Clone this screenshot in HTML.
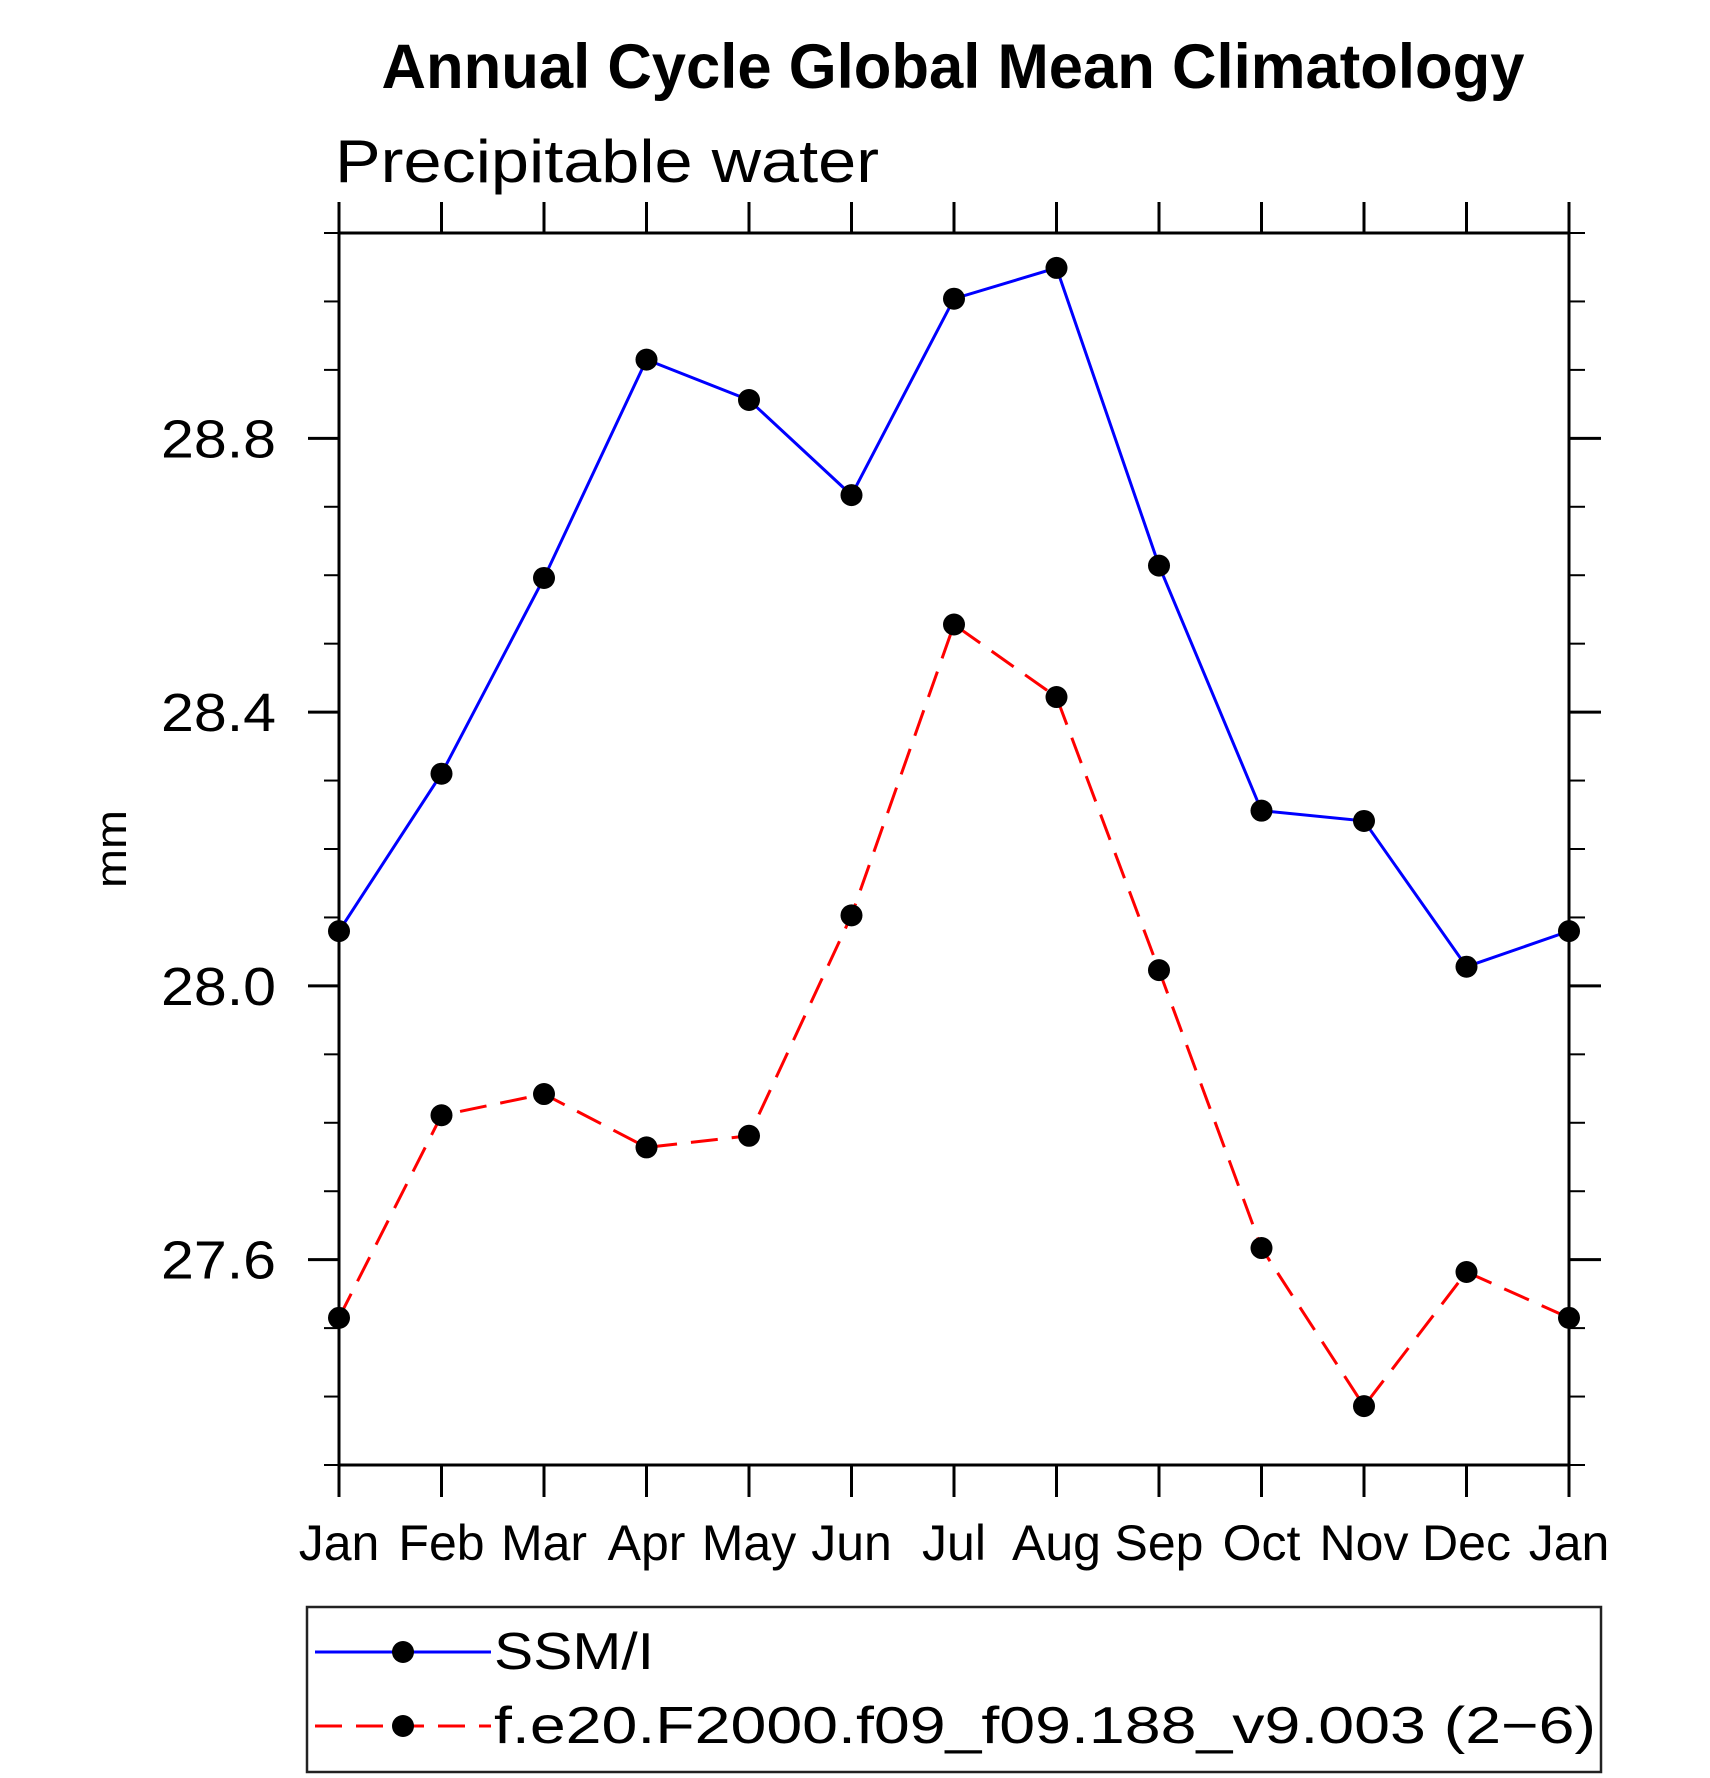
<!DOCTYPE html>
<html>
<head>
<meta charset="utf-8">
<style>
  html,body{margin:0;padding:0;background:#fff;}
  svg{display:block;}
  text{font-family:"Liberation Sans",sans-serif;fill:#000;}
</style>
</head>
<body>
<svg id="chart" width="1710" height="1778" viewBox="0 0 1710 1778" xmlns="http://www.w3.org/2000/svg">
  <text x="953" y="88" text-anchor="middle" font-size="63" font-weight="bold" textLength="1143" lengthAdjust="spacingAndGlyphs">Annual Cycle Global Mean Climatology</text>
  <text x="335" y="182" font-size="60" textLength="544" lengthAdjust="spacingAndGlyphs" style="font-weight:100">Precipitable water</text>
  <text transform="translate(126,849) rotate(-90)" text-anchor="middle" font-size="44" textLength="78" lengthAdjust="spacingAndGlyphs">mm</text>
  <g id="axes"></g>
  <g id="series"></g>
  <g id="legend">
    <rect x="307" y="1607" width="1294" height="165" fill="none" stroke="#222" stroke-width="2.5"/>
    <g>
      <line x1="315" y1="1652" x2="491" y2="1652" stroke="#00f" stroke-width="3"/>
      <circle cx="403" cy="1652" r="11" fill="#000"/>
      <text x="494" y="1669" font-size="52" textLength="160" lengthAdjust="spacingAndGlyphs">SSM/I</text>
    </g>
    <g>
      <line x1="315" y1="1726" x2="491" y2="1726" stroke="#f00" stroke-width="3" stroke-dasharray="27,14"/>
      <circle cx="403" cy="1726" r="11" fill="#000"/>
      <text x="494" y="1743" font-size="52" textLength="1102" lengthAdjust="spacingAndGlyphs">f.e20.F2000.f09_f09.188_v9.003 (2−6)</text>
    </g>
  </g>
</svg>
<script>
const months = ["Jan","Feb","Mar","Apr","May","Jun","Jul","Aug","Sep","Oct","Nov","Dec","Jan"];
const ssmiValues = [28.08,28.31,28.596,28.915,28.856,28.717,29.004,29.049,28.614,28.256,28.241,28.028,28.08];
const modelValues = [27.515,27.811,27.842,27.764,27.781,28.103,28.528,28.422,28.023,27.617,27.386,27.582,27.515];
const yTickValues = [27.6,28.0,28.4,28.8];
const yTickLabels = ["27.6","28.0","28.4","28.8"];
const yMin = 27.3, yMax = 29.1;

const NS = "http://www.w3.org/2000/svg";
const L = 339, R = 1569, T = 233, B = 1465;
function xs(i){ return L + i*(R-L)/(months.length-1); }
function ys(v){ return T + (yMax - v)/(yMax - yMin)*(B - T); }
function mk(tag, attrs, parent){
  const e = document.createElementNS(NS, tag);
  for (const k in attrs) e.setAttribute(k, attrs[k]);
  parent.appendChild(e);
  return e;
}
const axes = document.getElementById("axes");
const frame = mk("rect", {x:L, y:T, width:R-L, height:B-T, fill:"none", stroke:"#000", "stroke-width":3}, axes);



months.forEach((m, i) => {
  const x = xs(i);
  const t1 = mk("line", {x1:x, y1:T-31, x2:x, y2:T, stroke:"#000", "stroke-width":3}, axes);
  
  
  const t2 = mk("line", {x1:x, y1:B, x2:x, y2:B+32, stroke:"#000", "stroke-width":3}, axes);
  
  
  const lb = mk("text", {x:x, y:1560, "text-anchor":"middle", "font-size":"50"}, axes);
  lb.textContent = m;
  
  
});

for (let k = 0; k <= Math.round((yMax-yMin)*10); k++) {
  const v = yMin + k*0.1;
  const y = ys(v);
  const a = mk("line", {x1:L-15, y1:y, x2:L, y2:y, stroke:"#000", "stroke-width":2}, axes);
  
  
  const b = mk("line", {x1:R, y1:y, x2:R+16, y2:y, stroke:"#000", "stroke-width":2}, axes);
  
  
}
yTickValues.forEach((v, i) => {
  const y = ys(v);
  const a = mk("line", {x1:L-31, y1:y, x2:L, y2:y, stroke:"#000", "stroke-width":3}, axes);
  
  
  const b = mk("line", {x1:R, y1:y, x2:R+32, y2:y, stroke:"#000", "stroke-width":3}, axes);
  
  
  const lb = mk("text", {x:161, y:y+19, "font-size":"54", textLength:"115", lengthAdjust:"spacingAndGlyphs"}, axes);
  lb.textContent = yTickLabels[i];
  
  
});

const series = document.getElementById("series");
function drawSeries(vals, color, dash, name){
  const pts = vals.map((v,i) => xs(i)+","+ys(v)).join(" ");
  const attrs = {points:pts, fill:"none", stroke:color, "stroke-width":3};
  if (dash) attrs["stroke-dasharray"] = dash;
  const pl = mk("polyline", attrs, series);
  
  
  vals.forEach((v,i) => {
    const c = mk("circle", {cx:xs(i), cy:ys(v), r:11, fill:"#000"}, series);
    
    
  });
}
drawSeries(modelValues, "#f00", "27,14", "model");
drawSeries(ssmiValues, "#00f", null, "ssmi");
</script>
</body>
</html>
